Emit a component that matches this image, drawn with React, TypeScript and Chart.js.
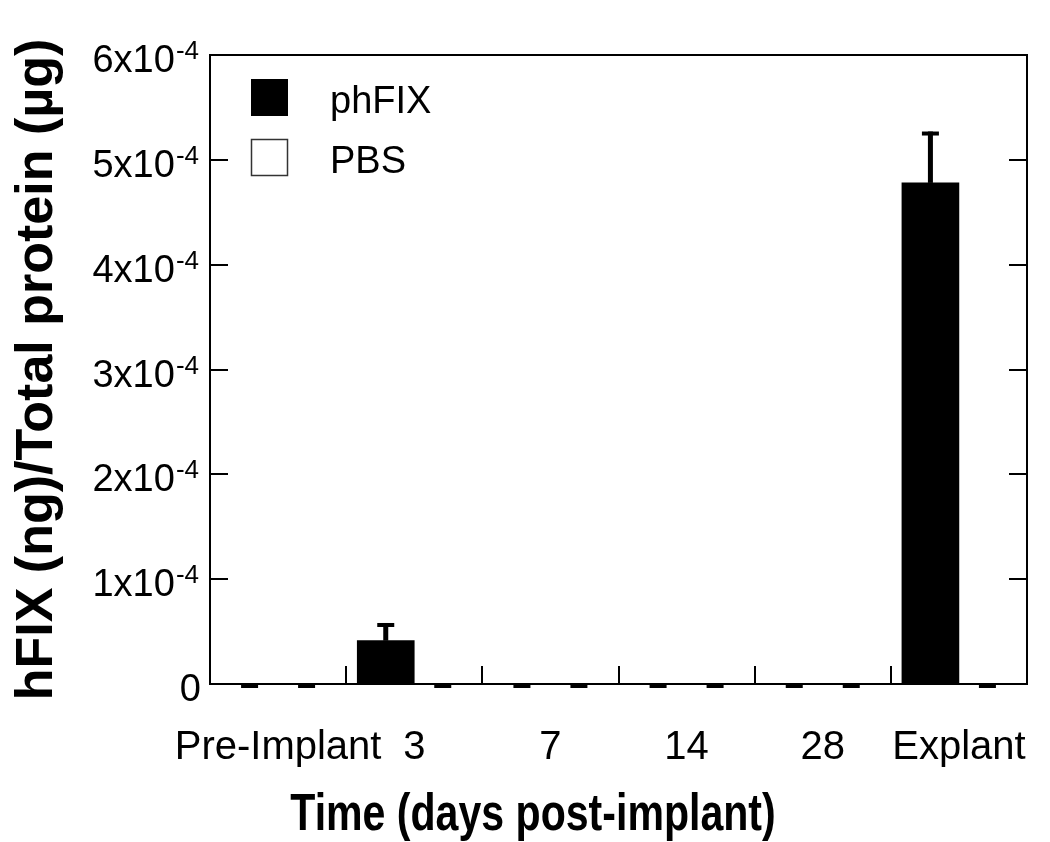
import React, { useEffect, useRef } from 'react';
import { Chart, registerables } from 'chart.js';

Chart.register(...registerables);

// ---- Data ----
const categories = ['Pre-Implant', '3', '7', '14', '28', 'Explant'];
const seriesLabels = ['phFIX', 'PBS'];
const phFIXValues = [0, 4.13e-5, 0, 0, 0, 4.78e-4];
const phFIXErrors = [0, 1.69e-5, 0, 0, 0, 4.9e-5];
const pbsValues = [0, 0, 0, 0, 0, 0];
const pbsErrors = [0, 0, 0, 0, 0, 0];
const yTickValues = [0, 1e-4, 2e-4, 3e-4, 4e-4, 5e-4, 6e-4];
const yTickMantissas = ['0', '1x10', '2x10', '3x10', '4x10', '5x10', '6x10'];
const yTickExponents = ['', '-4', '-4', '-4', '-4', '-4', '-4'];
const xTitle = 'Time (days post-implant)';
const yTitle = 'hFIX (ng)/Total protein (µg)';

const FONT = "'Liberation Sans', Arial, Helvetica, sans-serif";

const decorPlugin = {
  id: 'decor',
  afterDatasetsDraw(chart: any) {
    const ctx = chart.ctx;
    const { left, right, top, bottom } = chart.chartArea;
    const xs = chart.scales.x;
    const ys = chart.scales.y;
    ctx.save();
    ctx.strokeStyle = '#000';
    ctx.fillStyle = '#000';
    ctx.lineWidth = 2;
    // frame top & right
    ctx.beginPath();
    ctx.moveTo(left, top);
    ctx.lineTo(right, top);
    ctx.lineTo(right, bottom);
    ctx.stroke();
    // y ticks inward on both sides
    const tl = 18;
    yTickValues.forEach((v) => {
      const py = Math.round(ys.getPixelForValue(v));
      ctx.beginPath();
      ctx.moveTo(left, py);
      ctx.lineTo(left + tl, py);
      ctx.moveTo(right, py);
      ctx.lineTo(right - tl, py);
      ctx.stroke();
    });
    // x ticks at category boundaries
    for (let i = 1; i < categories.length; i++) {
      const px = Math.round((xs.getPixelForValue(i - 1) + xs.getPixelForValue(i)) / 2);
      ctx.beginPath();
      ctx.moveTo(px, bottom);
      ctx.lineTo(px, bottom - tl);
      ctx.stroke();
    }
    // error bars
    chart.data.datasets.forEach((ds: any, di: number) => {
      const meta = chart.getDatasetMeta(di);
      meta.data.forEach((el: any, i: number) => {
        const v = ds.data[i];
        const e = ds.errors[i];
        const x = el.x;
        const yVal = ys.getPixelForValue(v);
        const yTop = ys.getPixelForValue(v + e);
        if (e > 0) {
          ctx.fillRect(x - 2.5, yTop, 5, yVal - yTop);
        }
        ctx.fillRect(x - 8.5, yTop, 17, 4);
      });
    });
    // y tick labels with superscript exponent
    ctx.textAlign = 'right';
    ctx.textBaseline = 'alphabetic';
    const labelRight = 199;
    yTickValues.forEach((v, i) => {
      const py = ys.getPixelForValue(v);
      const base = py + 17;
      const exp = yTickExponents[i];
      let baseRight = labelRight + 2;
      if (exp) {
        ctx.font = `26px ${FONT}`;
        const w = ctx.measureText(exp).width;
        ctx.fillText(exp, labelRight, base - 13);
        baseRight = labelRight - w - 1;
      }
      ctx.font = `38px ${FONT}`;
      ctx.fillText(yTickMantissas[i], baseRight, base);
    });
    // legend
    ctx.textAlign = 'left';
    ctx.font = `38px ${FONT}`;
    chart.data.datasets.forEach((ds: any, di: number) => {
      const by = 79 + di * 60;
      if (ds.backgroundColor === '#000000') {
        ctx.fillStyle = '#000';
        ctx.fillRect(251, by, 37, 37);
      } else {
        ctx.fillStyle = '#fff';
        ctx.fillRect(251, by, 37, 37);
        ctx.strokeStyle = '#333';
        ctx.lineWidth = 1.5;
        ctx.strokeRect(251.5, by + 0.5, 36, 36);
      }
      ctx.fillStyle = '#000';
      ctx.fillText(ds.label, 330, by + 34);
    });
    // x axis title (condensed bold)
    ctx.fillStyle = '#000';
    ctx.font = `bold 52px ${FONT}`;
    ctx.textAlign = 'center';
    ctx.textBaseline = 'alphabetic';
    const cx = 533;
    ctx.translate(cx, 830);
    ctx.scale(0.79, 1);
    ctx.fillText(xTitle, 0, 0);
    ctx.restore();
  },
};

export default function App() {
  const ref = useRef<HTMLCanvasElement>(null);
  useEffect(() => {
    if (!ref.current) return;
    const chart = new Chart(ref.current, {
      type: 'bar',
      data: {
        labels: categories,
        datasets: [
          {
            label: seriesLabels[0],
            data: phFIXValues,
            errors: phFIXErrors,
            backgroundColor: '#000000',
            borderColor: '#000000',
            borderWidth: 0,
            barThickness: 57,
          } as any,
          {
            label: seriesLabels[1],
            data: pbsValues,
            errors: pbsErrors,
            backgroundColor: '#ffffff',
            borderColor: '#333333',
            borderWidth: 1.5,
            barThickness: 57,
          } as any,
        ],
      },
      options: {
        animation: false,
        responsive: true,
        maintainAspectRatio: false,
        layout: { padding: { left: 0, right: 23, top: 55, bottom: 0 } },
        plugins: {
          legend: { display: false },
          tooltip: { enabled: false },
        },
        datasets: { bar: { categoryPercentage: 0.8, barPercentage: 1 } },
        scales: {
          x: {
            type: 'category',
            grid: { display: false },
            border: { display: true, color: '#000', width: 2 },
            ticks: {
              color: '#000',
              font: { family: FONT, size: 40 },
              padding: 32,
              maxRotation: 0,
              autoSkip: false,
            },
            title: { display: false, text: xTitle },
            afterFit: (s: any) => {
              s.height = 158;
              s.paddingLeft = 0;
              s.paddingRight = 0;
            },
          },
          y: {
            min: 0,
            max: 6e-4,
            grid: { display: false },
            border: { display: true, color: '#000', width: 2 },
            ticks: { display: false, stepSize: 1e-4 },
            title: {
              display: true,
              text: yTitle,
              color: '#000',
              font: { family: FONT, size: 52, weight: 'bold' },
              padding: { top: 6, bottom: 0 },
            },
            afterFit: (s: any) => {
              s.width = 210;
              s.paddingTop = 0;
              s.paddingBottom = 0;
            },
          },
        },
      },
      plugins: [decorPlugin],
    } as any);
    return () => chart.destroy();
  }, []);
  return (
    <div style={{ position: 'absolute', left: 0, top: 0, width: 1050, height: 842, background: '#fff' }}>
      <canvas ref={ref} />
    </div>
  );
}
